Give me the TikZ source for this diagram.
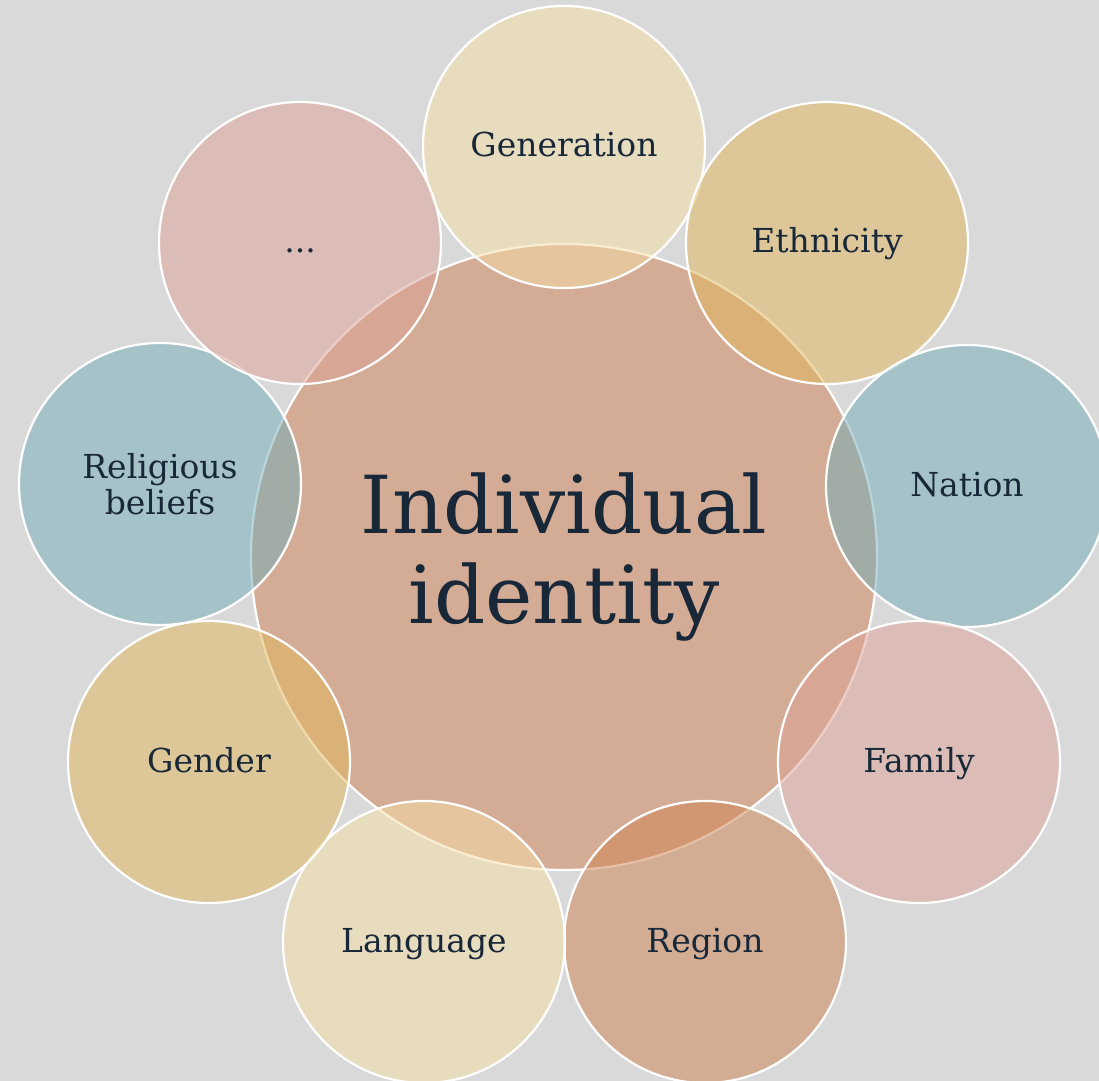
\documentclass[tikz,border=0pt]{standalone}
\usepackage{fontspec}
\setmainfont{DejaVu Serif}
\definecolor{bggrey}{RGB}{217,217,217}
\definecolor{inktext}{RGB}{24,40,56}
\definecolor{hubfill}{RGB}{212,172,149}
\definecolor{creamfill}{RGB}{247,223,167}
\definecolor{goldfill}{RGB}{225,183,89}
\definecolor{tealfill}{RGB}{113,173,183}
\definecolor{rosefill}{RGB}{221,161,149}
\definecolor{rustfill}{RGB}{207,129,81}
\tikzset{%
    hub/.style={circle, draw=white, line width=1.1pt, fill=hubfill,
    	minimum size=313pt, inner sep=0pt, align=center, text=inktext,
    	font=\fontsize{40}{45}\selectfont},
    petal/.style={circle, draw=white, line width=1.1pt, fill=#1,
    	fill opacity=0.5, text opacity=1, minimum size=141pt, inner sep=0pt,
    	align=center, text=inktext, text height=1em, text depth=0pt,
    	font=\fontsize{16.5}{18}\selectfont}
}

\begin{document}
\begin{tikzpicture}[x=0.5pt, y=-0.5pt]
  \useasboundingbox (0,0) rectangle (1099,1081);
  \fill[bggrey] (0,0) rectangle (1099,1081);

  \node (hub) [hub] at (564,557) {Individual\\identity};

  \node (gen) [petal=creamfill] at (564,147) {Generation};
  \node (eth) [petal=goldfill]  at (827,243) {Ethnicity};
  \node (nat) [petal=tealfill]  at (967,486) {Nation};
  \node (fam) [petal=rosefill]  at (919,762) {Family};
  \node (reg) [petal=rustfill]  at (705,942) {Region};
  \node (lan) [petal=creamfill] at (424,942) {Language};
  \node (gnd) [petal=goldfill]  at (209,762) {Gender};
  \node (rel) [petal=tealfill, text height=, text depth=] at (160,484)
    {Religious\\beliefs};
  \node (etc) [petal=rosefill]  at (300,243) {...};

\end{tikzpicture}
\end{document}
